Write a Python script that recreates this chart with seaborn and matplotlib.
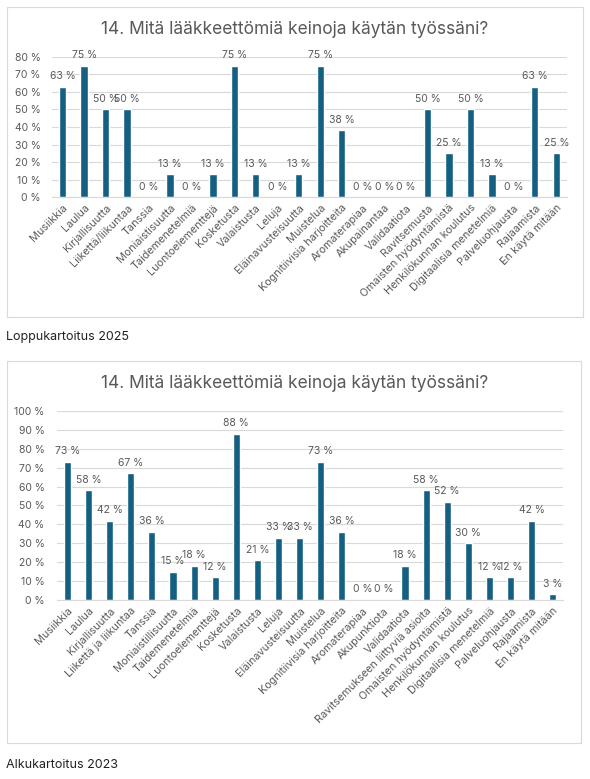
import matplotlib
matplotlib.use("Agg")
import matplotlib.pyplot as plt
import seaborn as sns
import pandas as pd
from matplotlib.patches import Rectangle

# Data
title = "14. Mitä lääkkeettömiä keinoja käytän työssäni?"

cats_2025 = ["Musiikkia", "Laulua", "Kirjallisuutta", "Liikettä/liikuntaa", "Tanssia",
             "Moniaistisuutta", "Taidemenetelmiä", "Luontoelementtejä", "Kosketusta",
             "Valaistusta", "Leluja", "Eläinavusteisuutta", "Muistelua",
             "Kognitiivisia harjoitteita", "Aromaterapiaa", "Akupainantaa", "Validaatiota",
             "Ravitsemusta", "Omaisten hyödyntämistä", "Henkilökunnan koulutus",
             "Digitaalisia menetelmiä", "Palveluohjausta", "Rajaamista", "En käytä mitään"]
vals_2025 = [63, 75, 50, 50, 0, 13, 0, 13, 75, 13, 0, 13, 75, 38, 0, 0, 0, 50, 25, 50, 13, 0, 63, 25]

cats_2023 = ["Musiikkia", "Laulua", "Kirjallisuutta", "Liikettä ja liikuntaa", "Tanssia",
             "Moniaistillisuutta", "Taidemenetelmiä", "Luontoelementtejä", "Kosketusta",
             "Valaistusta", "Leluja", "Eläinavusteisuutta", "Muistelua",
             "Kognitiivisia harjoitteita", "Aromaterapiaa", "Akupunktiota", "Validaatiota",
             "Ravitsemukseen liittyviä asioita", "Omaisten hyödyntämistä",
             "Henkilökunnan koulutus", "Digitaalisia menetelmiä", "Palveluohjausta",
             "Rajaamista", "En käytä mitään"]
vals_2023 = [73, 58, 42, 67, 36, 15, 18, 12, 88, 21, 33, 33, 73, 36, 0, 0, 18, 58, 52, 30, 12, 12, 42, 3]

sns.set_style("white")
plt.rcParams['font.family'] = ['Inter', 'DejaVu Sans']

bar_color = "#156082"
text_color = "#595959"
grid_color = "#D9D9D9"

fig = plt.figure(figsize=(5.9, 7.79), dpi=100)


def draw_chart(ax, cats, vals, ymax, title_y, ypad):
    df = pd.DataFrame({"cat": cats, "val": vals})
    sns.barplot(data=df, x="cat", y="val", color=bar_color, width=0.34,
                saturation=1, ax=ax, zorder=3)
    ax.set_ylim(0, ymax)
    ax.set_yticks(range(0, ymax + 1, 10))
    ax.set_yticklabels([f"{t} %" for t in range(0, ymax + 1, 10)])
    ax.grid(axis="y", color=grid_color, linewidth=0.8, zorder=0)
    ax.set_axisbelow(True)
    for s in ["top", "right", "left"]:
        ax.spines[s].set_visible(False)
    ax.spines["bottom"].set_color(grid_color)
    ax.spines["bottom"].set_zorder(4)
    ax.tick_params(axis="y", length=0, labelsize=7.5, colors=text_color, pad=ypad)
    ax.tick_params(axis="x", length=0, labelsize=7.8, colors=text_color, pad=4)
    ax.set_xlabel("")
    ax.set_ylabel("")
    ax.set_xlim(-0.5, len(cats) - 0.5)
    plt.setp(ax.get_xticklabels(), rotation=45, ha="right", rotation_mode="anchor")
    ax.bar_label(ax.containers[0], labels=[f"{v} %" for v in vals], padding=4,
                 fontsize=7.5, color=text_color)
    fig.text(0.5, title_y, title, ha="center", va="center", fontsize=12.5, color=text_color)


# Top chart (2025)
fig.add_artist(Rectangle((0.012, 0.593), 0.976, 0.398, transform=fig.transFigure,
                         fill=False, edgecolor="#D9D9D9", linewidth=0.8))
ax1 = fig.add_axes([0.088, 0.747, 0.873, 0.180])
draw_chart(ax1, cats_2025, vals_2025, 80, 1 - 30 / 779, 8)
fig.text(0.01, 1 - 337 / 779, "Loppukartoitus 2025", ha="left", va="center",
         fontsize=9, color="#222222")

# Bottom chart (2023)
fig.add_artist(Rectangle((0.012, 0.046), 0.972, 0.490, transform=fig.transFigure,
                         fill=False, edgecolor="#D9D9D9", linewidth=0.8))
ax2 = fig.add_axes([0.0966, 0.2298, 0.858, 0.2426])
draw_chart(ax2, cats_2023, vals_2023, 100, 1 - 383 / 779, 9)
fig.text(0.01, 1 - 765 / 779, "Alkukartoitus 2023", ha="left", va="center",
         fontsize=9, color="#222222")

fig.savefig("out.png", dpi=100)
